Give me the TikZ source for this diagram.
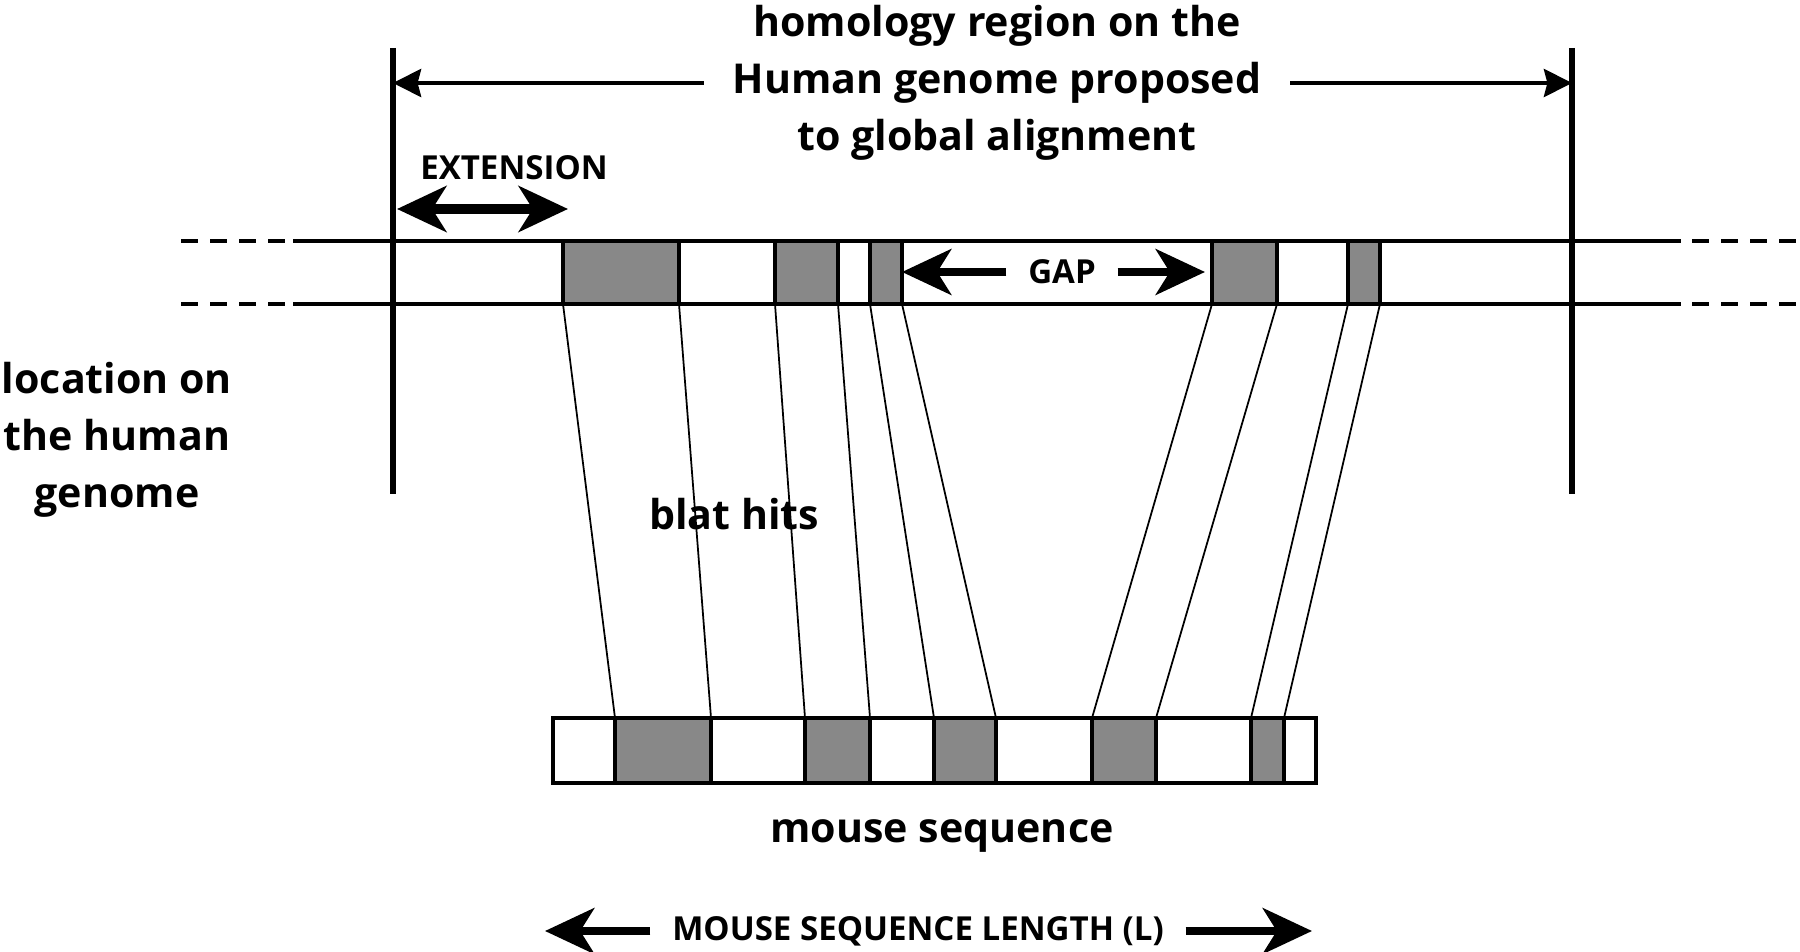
\documentclass[tikz,border=0pt]{standalone}
\usepackage{fontspec}
\setmainfont{Open Sans}
\usetikzlibrary{arrows.meta,fit}
\definecolor{hitgray}{RGB}{136,136,136}
\tikzset{
  hit/.style={draw,line width=1pt,fill=hitgray,inner sep=0pt,outer sep=0pt},
  seqbox/.style={draw,line width=1.1pt,inner sep=0pt,outer sep=0pt},
  band/.style={line width=1pt},
  bandend/.style={line width=1pt,dash pattern=on 4.84pt off 3.41pt},
  vline/.style={line width=1.6pt},
  hitline/.style={line width=0.5pt},
  bigtxt/.style={font=\bfseries\fontsize{11.7}{16.2}\selectfont,align=center},
  captxt/.style={font=\bfseries\fontsize{9.4}{11}\selectfont},
  fatarrow/.style={line width=2.2pt,>={Stealth[length=14pt,width=13pt,inset=4pt]}},
  thinarrow/.style={line width=1.1pt,->,>={Stealth[length=8pt,width=8pt,inset=1pt]}},
}
\begin{document}
\begin{tikzpicture}[x=0.01cm,y=-0.01cm]
 \useasboundingbox (0,0) rectangle (1800,952);
 % limits of the homology region
 \coordinate (lt) at (393,48); \coordinate (lb) at (393,494);
 \coordinate (rt) at (1572,48); \coordinate (rb) at (1572,494);
 % human genome band
 \draw[band] (293,241) -- (1681,241) (293,304) -- (1681,304);
 \draw[bandend] (181,241) -- (293,241) (181,304) -- (293,304);
 \draw[bandend] (1692,241) -- (1800,241) (1692,304) -- (1800,304);
 \foreach \a/\b [count=\i] in {563/679,775/838,870/902,1212/1277,1348/1380}
   \node[hit,fit={(\a,241) (\b,304)}] (h\i) {};
 % mouse sequence
 \node[seqbox,fit={(553,718) (1316,783)}] (mouse) {};
 \foreach \a/\b [count=\i] in {615/711,805/870,934/996,1092/1156,1251/1284}
   \node[hit,fit={(\a,718) (\b,783)}] (m\i) {};
 % blat hits
 \foreach \i in {1,...,5} {
   \draw[hitline] (h\i.south west) -- (m\i.north west);
   \draw[hitline] (h\i.south east) -- (m\i.north east);
 }
 \draw[vline] (lt) -- (lb);
 \draw[vline] (rt) -- (rb);
 % labels
 \node[bigtxt,inner sep=8pt] (title) at (997,83) {homology region on the\\Human genome proposed\\to global alignment};
 \draw[thinarrow] (title.west) -- (lt |- title.west);
 \draw[thinarrow] (title.east) -- (rt |- title.east);
 \node[captxt] (ext) at (514,168) {EXTENSION};
 \coordinate (extL) at (397,209); \coordinate (extR) at (568,209);
 \draw[fatarrow,<->,line width=2.6pt] (extL) -- (extR);
 \node[captxt,inner sep=6pt] (gap) at (1062,272) {GAP};
 \draw[fatarrow,->] (gap.west) -- (h3.east |- gap.west);
 \draw[fatarrow,->,shorten >=2pt] (gap.east) -- (h4.west |- gap.east);
 \node[bigtxt] (loc) at (117,440) {location on\\the human\\genome};
 \node[bigtxt] (blat) at (734,514) {blat hits};
 \node[bigtxt] (mlabel) at (942,836) {mouse sequence};
 \node[captxt,inner sep=6pt] (len) at (918,931) {MOUSE SEQUENCE LENGTH (L)};
 \coordinate (lenL) at (545,931); \coordinate (lenR) at (1312,931);
 \draw[fatarrow,->] (len.west) -- (lenL);
 \draw[fatarrow,->] (len.east) -- (lenR);
\end{tikzpicture}
\end{document}
